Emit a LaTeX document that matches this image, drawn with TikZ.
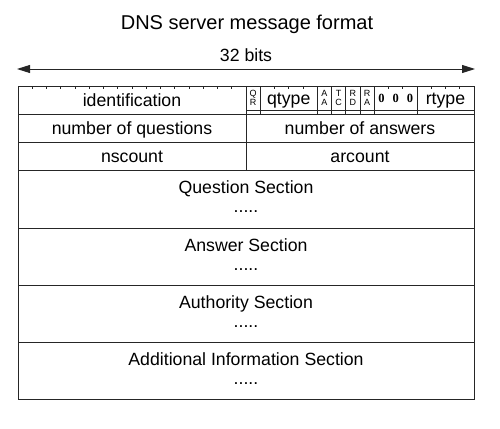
\documentclass[tikz,border=0pt]{standalone}
\usepackage{fontspec}
\setmainfont{Liberation Sans}
\newfontfamily\zerofont{Liberation Serif}
\usetikzlibrary{arrows.meta}

\begin{document}
\begin{tikzpicture}[x = 1pt, y = -1pt, line width = 0.9pt,
	every node/.style = {rectangle, inner sep = 0pt, outer sep = 0pt},
	field/.style = {draw = black!85, minimum height = 28pt, text height = 13pt, text depth = 0pt, font = \fontsize{17.7}{20}\selectfont},
	flag/.style = {draw = black!85, minimum width = 14.25pt, minimum height = 24pt, align = center, font = \fontsize{9}{8.5}\selectfont},
	label/.style = {anchor = base, font = \fontsize{17.7}{20}\selectfont}]

	\useasboundingbox (0, 0) rectangle (500, 428);

	% title and width arrow
	\node [anchor = base, font = \fontsize{20}{24}\selectfont] (title) at (247, 30) {DNS server message format};
	\node [label] (bits) at (246, 62) {32 bits};
	\coordinate (arrowleft) at (17, 69);
	\coordinate (arrowright) at (475, 69);
	\draw [black!85, {Triangle[length = 13pt, width = 8pt]}-{Triangle[length = 13pt, width = 8pt]}] (arrowleft) -- (arrowright);

	% first row
	\node [field, minimum width = 228pt] (ident) at (132, 100) {identification};
	\node [flag] (qr) at (253.125, 98) {Q\\R};
	\node [field, minimum width = 57pt, minimum height = 24pt] (qtype) at (288.75, 98) {qtype};
	\node [flag] (aa) at (324.375, 98) {A\\A};
	\node [flag] (tc) at (338.625, 98) {T\\C};
	\node [flag] (rd) at (352.875, 98) {R\\D};
	\node [flag] (ra) at (367.125, 98) {R\\A};
	\node [field, minimum width = 42.75pt, minimum height = 24pt, text height = 8.5pt, font = \zerofont\bfseries\fontsize{12.5}{14}\selectfont] (zeros) at (395.625, 98) {\makebox[14.25pt]{0}\makebox[14.25pt]{0}\makebox[14.25pt]{0}};
	\node [field, minimum width = 57pt, minimum height = 24pt] (rtype) at (445.5, 98) {rtype};
	\draw [black!85] (rtype.south east) -- ++(0, 4) -- (ident.south east);
	\foreach \n in {qr, qtype, aa, tc, rd, ra, zeros}
		\draw [black!85] (\n.south east) -- ++(0, 4);

	% bit ticks
	\foreach \k in {1, ..., 31}
		\draw [black!85] ({18 + \k*14.25}, 86) -- ++(0, 3);

	% counts
	\node [field, minimum width = 228pt] (questions) at (132, 128) {number of questions};
	\node [field, minimum width = 228pt] (answers) at (360, 128) {number of answers};
	\node [field, minimum width = 228pt] (nscount) at (132, 156) {nscount};
	\node [field, minimum width = 228pt] (arcount) at (360, 156) {arcount};

	% sections
	\foreach \name/\sectext/\ytop/\ybot in {question/Question/170/228, answer/Answer/228/285, authority/Authority/285/342, additional/Additional Information/342/399} {
		\pgfmathsetmacro\h{\ybot - \ytop}
		\node [draw = black!85, minimum width = 456pt, minimum height = \h pt] (\name) at (246, {(\ytop + \ybot)/2}) {};
		\node [label] (\name-text) at ([yshift = -23pt] \name.north) {\sectext{} Section};
		\node [label] (\name-dots) at ([yshift = -42pt] \name.north) {.....};
	}

\end{tikzpicture}
\end{document}
